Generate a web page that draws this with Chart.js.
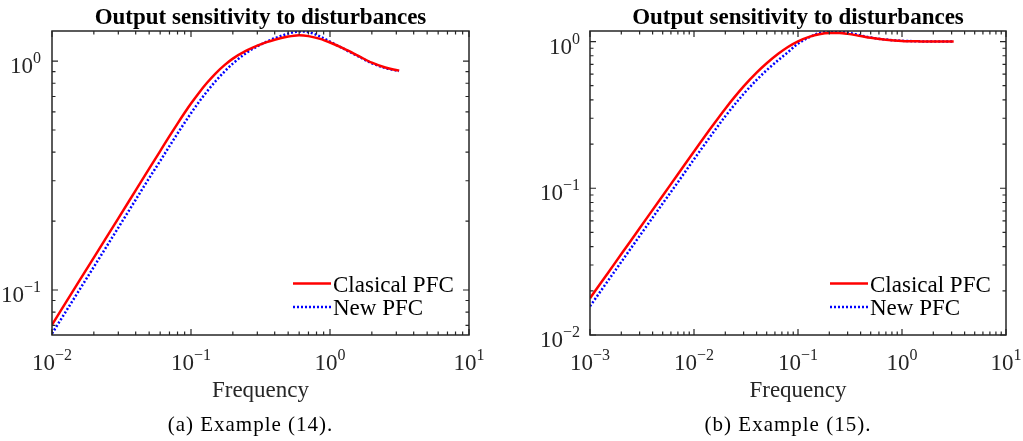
<!DOCTYPE html>
<html>
<head>
<meta charset="utf-8">
<script src="https://cdn.jsdelivr.net/npm/chart.js@4.4.1/dist/chart.umd.min.js"></script>
<style>
    html, body { margin: 0; padding: 0; background: #fff; }
    #wrap { position: relative; width: 1023px; height: 441px; overflow: hidden; }
    canvas { position: absolute; top: 0; }
    #chartA { left: 0; }
    #chartB { left: 511px; }
</style>
</head>
<body>
<div id="wrap">
    <canvas id="chartA" width="511" height="441"></canvas>
    <canvas id="chartB" width="512" height="441"></canvas>
</div>
<script>
// Example (14)
const freqA = [0.01, 0.015, 0.02, 0.03, 0.04, 0.05, 0.06, 0.07, 0.08, 0.09, 0.1, 0.115, 0.13, 0.15, 0.175, 0.2, 0.25, 0.3, 0.35, 0.4, 0.5, 0.55, 0.6, 0.7, 0.85, 1.0, 1.25, 1.6, 2.0, 2.5, 3.14];
const clasicalA = [0.0705, 0.1047, 0.1386, 0.2057, 0.2724, 0.3387, 0.4044, 0.4697, 0.5332, 0.5943, 0.652, 0.7312, 0.8016, 0.8822, 0.962, 1.025, 1.11, 1.168, 1.21, 1.24, 1.279, 1.291, 1.296, 1.285, 1.25, 1.205, 1.135, 1.053, 0.984, 0.937, 0.908];
const newA = [0.0645, 0.0955, 0.1262, 0.1872, 0.2479, 0.3082, 0.366, 0.425, 0.4826, 0.538, 0.592, 0.667, 0.735, 0.816, 0.902, 0.975, 1.085, 1.16, 1.215, 1.258, 1.318, 1.337, 1.347, 1.338, 1.28, 1.215, 1.132, 1.048, 0.978, 0.932, 0.905];

// Example (15)
const freqB = [0.001, 0.0015, 0.002, 0.003, 0.005, 0.007, 0.01, 0.015, 0.02, 0.03, 0.04, 0.05, 0.065, 0.08, 0.1, 0.13, 0.16, 0.2, 0.25, 0.3, 0.4, 0.5, 0.7, 1.0, 1.5, 2.0, 3.14];
const clasicalB = [0.0178, 0.0267, 0.0356, 0.0534, 0.089, 0.1245, 0.178, 0.2654, 0.3488, 0.4943, 0.6134, 0.7109, 0.8278, 0.9183, 1.004, 1.0806, 1.1218, 1.142, 1.142, 1.128, 1.09, 1.06, 1.03, 1.01, 1.002, 1.0, 1.0];
const newB = [0.0157, 0.0236, 0.0315, 0.0473, 0.0788, 0.110, 0.1576, 0.2352, 0.3095, 0.4395, 0.547, 0.638, 0.75, 0.846, 0.968, 1.075, 1.14, 1.172, 1.175, 1.153, 1.1, 1.065, 1.032, 1.012, 1.003, 1.0, 1.0];

// Tick labels (powers of ten)
const xExpA = [-2, -1, 0, 1];
const yExpA = [-1, 0];
const xExpB = [-3, -2, -1, 0, 1];
const yExpB = [-2, -1, 0];

const seriesNames = ['Clasical PFC', 'New PFC'];
const titleText = 'Output sensitivity to disturbances';
const xLabelText = 'Frequency';

const SERIF = '"Liberation Serif", "Times New Roman", serif';
const AXIS_COLOR = '#262626';

// Draw "10" with a raised exponent
function drawPow(ctx, exp, x, y, align) {
    const sup = String(exp).replace('-', '\u2212');
    ctx.font = `23px ${SERIF}`;
    const wb = ctx.measureText('10').width;
    ctx.font = `16px ${SERIF}`;
    const we = ctx.measureText(sup).width;
    const x0 = align === 'right' ? x - wb - we : x - (wb + we) / 2;
    ctx.textAlign = 'left';
    ctx.textBaseline = 'alphabetic';
    ctx.font = `23px ${SERIF}`;
    ctx.fillText('10', x0, y);
    ctx.font = `16px ${SERIF}`;
    ctx.fillText(sup, x0 + wb, y - 10);
}

// Decade and minor tick positions for a log axis
function logTicks(min, max) {
    const out = [];
    for (let d = Math.floor(Math.log10(min)); d <= Math.ceil(Math.log10(max)); d++) {
        for (let k = 1; k <= 9; k++) {
            const v = k * Math.pow(10, d);
            if (v >= min * 0.9999 && v <= max * 1.0001) out.push({ v, major: k === 1 });
        }
    }
    return out;
}

// MATLAB style box, ticks, labels, legend
const framePlugin = {
    id: 'frame',
    afterDraw(chart, args, opts) {
        const ctx = chart.ctx;
        const a = chart.chartArea;
        const xs = chart.scales.x;
        const ys = chart.scales.y;
        const cx = (a.left + a.right) / 2;
        ctx.save();

        // ticks
        ctx.strokeStyle = AXIS_COLOR;
        ctx.lineWidth = 1.2;
        ctx.beginPath();
        logTicks(xs.min, xs.max).forEach(t => {
            const px = xs.getPixelForValue(t.v);
            const len = t.major ? 6 : 3.5;
            ctx.moveTo(px, a.bottom); ctx.lineTo(px, a.bottom - len);
            ctx.moveTo(px, a.top); ctx.lineTo(px, a.top + len);
        });
        logTicks(ys.min, ys.max).forEach(t => {
            const py = ys.getPixelForValue(t.v);
            const len = t.major ? 6 : 3.5;
            ctx.moveTo(a.left, py); ctx.lineTo(a.left + len, py);
            ctx.moveTo(a.right, py); ctx.lineTo(a.right - len, py);
        });
        ctx.stroke();

        // box
        ctx.lineWidth = 1.5;
        ctx.strokeRect(a.left, a.top, a.right - a.left, a.bottom - a.top);

        // tick labels
        ctx.fillStyle = AXIS_COLOR;
        opts.xExp.forEach(e => drawPow(ctx, e, xs.getPixelForValue(Math.pow(10, e)), a.bottom + 35, 'center'));
        opts.yExp.forEach(e => drawPow(ctx, e, a.left - opts.yGap, ys.getPixelForValue(Math.pow(10, e)) + 12, 'right'));

        // axis label
        ctx.textAlign = 'center';
        ctx.font = `23px ${SERIF}`;
        ctx.fillText(xLabelText, cx, a.bottom + 62);

        // title
        ctx.fillStyle = '#000';
        ctx.font = `bold 23px ${SERIF}`;
        ctx.fillText(titleText, cx, 24);

        // caption
        ctx.font = `21px ${SERIF}`;
        if ('letterSpacing' in ctx) ctx.letterSpacing = '1px';
        ctx.fillText(opts.caption, cx - 10, 431);
        if ('letterSpacing' in ctx) ctx.letterSpacing = '0px';

        // legend
        const lx0 = a.right - 176;
        const lx1 = lx0 + 38;
        const rows = [283.5, 307];
        chart.data.datasets.forEach((ds, i) => {
            ctx.strokeStyle = ds.borderColor;
            ctx.lineWidth = ds.borderWidth;
            ctx.setLineDash(ds.borderDash || []);
            ctx.beginPath();
            ctx.moveTo(lx0, rows[i]);
            ctx.lineTo(lx1, rows[i]);
            ctx.stroke();
            ctx.setLineDash([]);
            ctx.fillStyle = '#000';
            ctx.textAlign = 'left';
            ctx.font = `23px ${SERIF}`;
            ctx.fillText(ds.label, lx1 + 2, rows[i] + 8);
        });
        ctx.restore();
    }
};

function makeChart(id, freq, clasical, nuevo, xMin, yMin, yMax, pad, frameOpts) {
    return new Chart(document.getElementById(id), {
        type: 'line',
        data: {
            datasets: [
                {
                    label: seriesNames[0],
                    data: freq.map((f, i) => ({ x: f, y: clasical[i] })),
                    borderColor: '#ff0000',
                    borderWidth: 2.5,
                    pointRadius: 0,
                    cubicInterpolationMode: 'monotone'
                },
                {
                    label: seriesNames[1],
                    data: freq.map((f, i) => ({ x: f, y: nuevo[i] })),
                    borderColor: '#0000ff',
                    borderWidth: 2.5,
                    borderDash: [2, 2],
                    pointRadius: 0,
                    cubicInterpolationMode: 'monotone'
                }
            ]
        },
        options: {
            responsive: false,
            animation: false,
            devicePixelRatio: 1,
            layout: { padding: pad },
            scales: {
                x: { type: 'logarithmic', min: xMin, max: 10, display: false },
                y: { type: 'logarithmic', min: yMin, max: yMax, display: false }
            },
            plugins: {
                legend: { display: false },
                tooltip: { enabled: false },
                frame: frameOpts
            }
        },
        plugins: [framePlugin]
    });
}

makeChart('chartA', freqA, clasicalA, newA, 0.01, 0.0636, 1.353,
    { left: 52, top: 31, right: 42, bottom: 106 },
    { xExp: xExpA, yExp: yExpA, yGap: 11, caption: '(a) Example (14).' });

makeChart('chartB', freqB, clasicalB, newB, 0.001, 0.01, 1.18,
    { left: 79, top: 31, right: 17, bottom: 106 },
    { xExp: xExpB, yExp: yExpB, yGap: 10, caption: '(b) Example (15).' });
</script>
</body>
</html>
